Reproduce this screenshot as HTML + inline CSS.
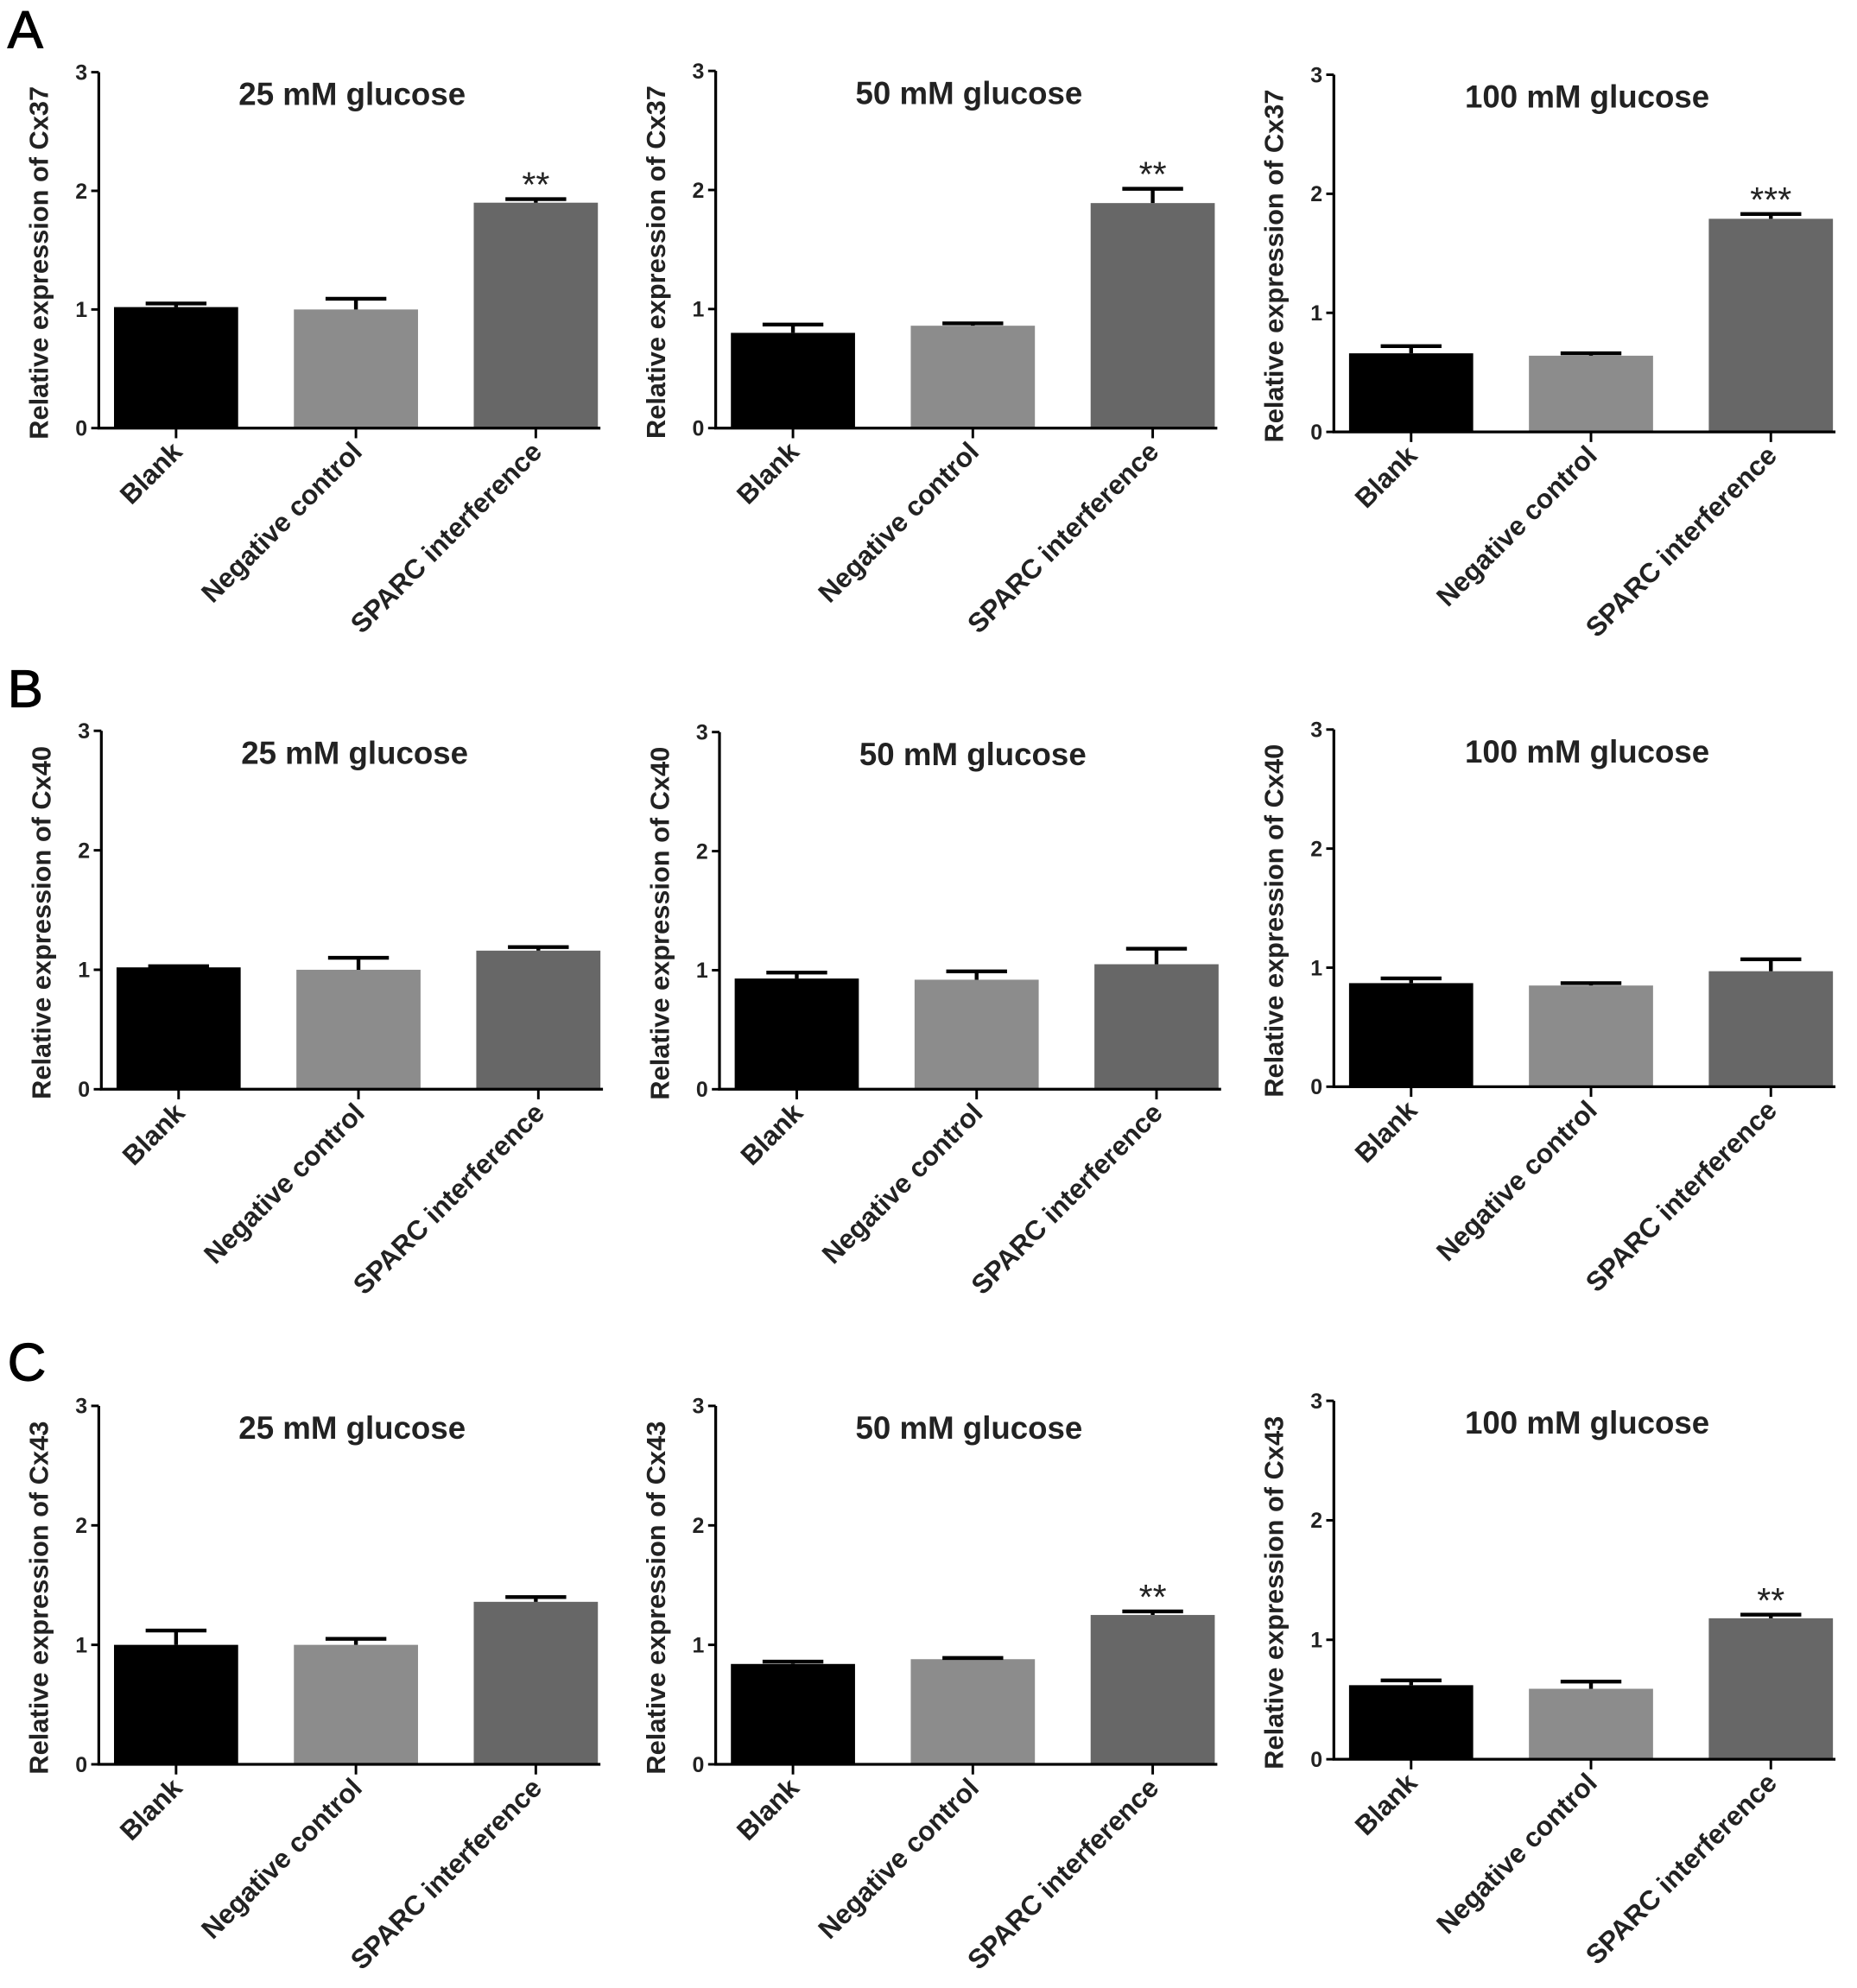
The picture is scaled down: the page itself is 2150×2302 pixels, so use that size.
<!DOCTYPE html>
<html><head><meta charset="utf-8"><style>
html,body{margin:0;padding:0;background:#fff}
svg{display:block}
text{font-family:"Liberation Sans",Arial,sans-serif;font-weight:bold;fill:#222}
</style></head><body>
<svg id="fig" xmlns="http://www.w3.org/2000/svg" width="2150" height="2302" viewBox="0 0 1466 1569.6" preserveAspectRatio="none"></svg>
<script>
const categories = ["Blank","Negative control","SPARC interference"];
const yTicks = [0,1,2,3];
const titles = ["25 mM glucose","50 mM glucose","100 mM glucose"];
const genes = ["Cx37","Cx40","Cx43"];
const meansA = [[1.02,1.0,1.9],[0.8,0.86,1.89],[0.66,0.64,1.79]];
const errA   = [[1.05,1.09,1.93],[0.87,0.88,2.01],[0.72,0.66,1.83]];
const starsA = [["","","**"],["","","**"],["","","***"]];
const meansB = [[1.02,1.0,1.16],[0.93,0.92,1.05],[0.87,0.85,0.97]];
const errB   = [[1.03,1.1,1.19],[0.98,0.99,1.18],[0.91,0.87,1.07]];
const starsB = [["","",""],["","",""],["","",""]];
const meansC = [[1.0,1.0,1.36],[0.84,0.88,1.25],[0.62,0.59,1.18]];
const errC   = [[1.12,1.05,1.4],[0.86,0.89,1.28],[0.66,0.65,1.21]];
const starsC = [["","",""],["","","**"],["","","**"]];

const means=[meansA,meansB,meansC], errs=[errA,errB,errC], stars=[starsA,starsB,starsC];
const panels=[
 [[78,57,338],[565,56,338],[1053,59,341]],
 [[80,577,860],[568,578,860],[1053,576,858]],
 [[78,1110,1393],[565,1110,1393],[1053,1106,1389]]];
const letters=["A","B","C"], letterY=[38,558,1090];
const colors=["#000000","#8c8c8c","#676767"];
const svg=document.getElementById('fig');
const NS="http://www.w3.org/2000/svg";
function mk(tag,attrs,parent){const e=document.createElementNS(NS,tag);for(const k in attrs)e.setAttribute(k,attrs[k]);(parent||svg).appendChild(e);return e;}

for(let r=0;r<3;r++){
  const L=mk('text',{x:6,y:letterY[r],'font-size':42,style:'font-weight:normal;fill:#000;stroke:#000;stroke-width:0.8'});
  
  
  L.textContent=letters[r];
  for(let c=0;c<3;c++){
    const [ax,y3,y0]=panels[r][c];
    const g=mk('g',{});
    
    
    const yS=v=>y0-(y0-y3)*v/3;
    const xL=i=>ax+12+142*i;
    const bw=98;
    for(let i=0;i<3;i++){
      const v=means[r][c][i], e=errs[r][c][i], cx=xL(i)+bw/2;
      const b=mk('rect',{x:xL(i),y:yS(v),width:bw,height:y0-yS(v),fill:colors[i]},g);
      
      
      const eb=mk('path',{d:`M${cx},${yS(v)} V${yS(e)} M${cx-24},${yS(e)} H${cx+24}`,stroke:'#000','stroke-width':3,fill:'none'},g);
      
      
      if(stars[r][c][i]){
        const s=mk('text',{x:cx,y:yS(e)-2,'text-anchor':'middle','font-size':28,style:'font-weight:normal'},g);
        
        
        s.textContent=stars[r][c][i];
      }
      mk('line',{x1:cx,y1:y0,x2:cx,y2:y0+8,stroke:'#000','stroke-width':2},g);
      const t=mk('text',{transform:`translate(${cx+6},${y0+20}) rotate(-45)`,'text-anchor':'end','font-size':21.5},g);
      
      
      t.textContent=categories[i];
    }
    const axes=mk('path',{d:`M${ax},${y3} V${y0} H${ax+396}`,stroke:'#000','stroke-width':2.2,fill:'none'},g);
    
    
    for(const tv of yTicks){
      mk('line',{x1:ax-6,y1:yS(tv),x2:ax,y2:yS(tv),stroke:'#000','stroke-width':2},g);
      const tl=mk('text',{x:ax-9,y:yS(tv)+6,'text-anchor':'end','font-size':17},g);
      
      
      tl.textContent=tv;
    }
    const yt=mk('text',{transform:`translate(${ax-40},${(y3+y0)/2+10}) rotate(-90)`,'text-anchor':'middle','font-size':21},g);
    
    
    yt.textContent='Relative expression of '+genes[r];
    const ti=mk('text',{x:ax+200,y:y3+26,'text-anchor':'middle','font-size':25},g);
    
    
    ti.textContent=titles[c];
  }
}
</script>
</body></html>
